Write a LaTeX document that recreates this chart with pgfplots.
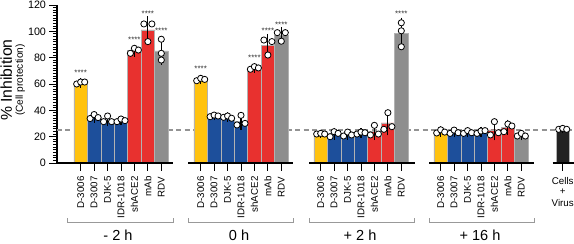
\documentclass[border=0pt]{standalone}
\usepackage{fontspec}
\setmainfont{Liberation Sans}
\usepackage{pgfplots}
\pgfplotsset{compat=1.18}
\definecolor{cy}{HTML}{FFC20E}
\definecolor{cb}{HTML}{1D4F9B}
\definecolor{cr}{HTML}{E8312F}
\definecolor{cg}{HTML}{8E8E8E}
\definecolor{ck}{HTML}{222222}
\begin{document}
\begin{tikzpicture}
\begin{axis}[
  scale only axis, width=517bp, height=158bp,
  xmin=57, xmax=574, ymin=0, ymax=120,
  clip=false,
  axis y line*=left, axis x line*=bottom,
  x axis line style={draw=none},
  y axis line style={line width=1.5bp, -},
  ytick={0,20,...,120}, minor y tick num=9,
  tick align=outside,
  major tick length=7.5bp, minor tick length=4bp,
  every tick/.style={black, line width=1bp},
  /pgf/number format/assume math mode=true,
  yticklabel style={font=\fontsize{10.8}{12}\selectfont},
  xtick={80.7,94.1,107.6,121.0,134.4,147.9,161.3,
         200.7,214.1,227.6,241.0,254.4,267.9,281.3,
         320.7,334.1,347.6,361.0,374.4,387.9,401.3,
         440.7,454.1,467.6,481.0,494.4,507.9,521.3,562.7},
  xticklabels={D-3006,D-3007,DJK-5,IDR-1018,shACE2,mAb,RDV,
               D-3006,D-3007,DJK-5,IDR-1018,shACE2,mAb,RDV,
               D-3006,D-3007,DJK-5,IDR-1018,shACE2,mAb,RDV,
               D-3006,D-3007,DJK-5,IDR-1018,shACE2,mAb,RDV,{}},
  xticklabel shift=2.5bp,
  xticklabel style={rotate=90, anchor=east, font=\fontsize{9.8}{11}\selectfont},
]
% reference line
\addplot[color=gray!85, line width=1.2bp, dash pattern=on 5bp off 3.5bp, forget plot] coordinates {(57,25) (574,25)};
% bars
\addplot[ybar, bar width=13.43, bar shift=0pt, fill=cy, draw=gray!60, line width=0.5bp] coordinates {
 (80.7,61.0) (200.7,63.4) (320.7,22.2) (440.7,23.8)};
\addplot[ybar, bar width=13.43, bar shift=0pt, fill=cb, draw=gray!60, line width=0.5bp] coordinates {
 (94.1,35.0) (107.6,32.8) (121.0,32.3)
 (214.1,35.8) (227.6,34.8) (241.0,31.7)
 (334.1,22.1) (347.6,21.8) (361.0,22.8)
 (454.1,23.5) (467.6,23.4) (481.0,23.8)};
\addplot[ybar, bar width=13.43, bar shift=0pt, fill=cr, draw=gray!60, line width=0.5bp] coordinates {
 (134.4,85.4) (147.9,101.1)
 (254.4,72.2) (267.9,89.2)
 (374.4,24.0) (387.9,30.5)
 (494.4,25.2) (507.9,27.2)};
\addplot[ybar, bar width=13.43, bar shift=0pt, fill=cg, draw=gray!60, line width=0.5bp] coordinates {
 (161.3,85.2) (281.3,96.8) (401.3,98.4) (521.3,21.2)};
\addplot[ybar, bar width=13.43, bar shift=0pt, fill=ck, draw=gray!60, line width=0.5bp] coordinates {
 (562.7,25.8)};
% error bars
\addplot[draw=none, mark=none,
  error bars/.cd, y dir=both, y explicit,
  error bar style={black, line width=1.1bp},
  error mark options={black, line width=1.1bp, mark size=3.5bp}] coordinates {
 (80.7,61.0) +- (0,1.0) (94.1,35.0) +- (0,1.6) (107.6,32.8) +- (0,2.4) (121.0,32.3) +- (0,1.0)
 (134.4,85.4) +- (0,1.9) (147.9,101.1) +- (0,7.7) (161.3,85.2) +- (0,8.0)
 (200.7,63.4) +- (0,0.9) (214.1,35.8) +- (0,0.6) (227.6,34.8) +- (0,0.9) (241.0,31.7) +- (0,3.9)
 (254.4,72.2) +- (0,1.0) (267.9,89.2) +- (0,6.3) (281.3,96.8) +- (0,3.8)
 (320.7,22.2) +- (0,0.3) (334.1,22.1) +- (0,1.9) (347.6,21.8) +- (0,1.6) (361.0,22.8) +- (0,0.8)
 (374.4,24.0) +- (0,4.0) (387.9,30.5) +- (0,6.8) (401.3,98.4) +- (0,9.3)
 (440.7,23.8) +- (0,1.3) (454.1,23.5) +- (0,1.3) (467.6,23.4) +- (0,1.1) (481.0,23.8) +- (0,1.1)
 (494.4,25.2) +- (0,5.4) (507.9,27.2) +- (0,3.0) (521.3,21.2) +- (0,1.2)
 (562.7,25.8) +- (0,0.4)};
% individual points
\addplot[only marks, mark=*, mark size=3.1bp, mark options={fill=white, draw=black, line width=0.8bp}] coordinates {
 (76.7,60.0) (80.7,61.5) (84.7,61.5)
 (90.1,33.8) (94.1,36.8) (98.1,34.5)
 (103.6,31.4) (107.6,35.7) (111.6,31.4)
 (117.0,31.4) (121.0,33.4) (125.0,32.2)
 (130.4,83.3) (134.4,87.1) (138.4,85.8)
 (143.9,105.6) (147.9,92.2) (151.9,105.6)
 (161.3,94.0) (161.3,83.3) (161.3,78.2)
 (196.7,62.5) (200.7,64.3) (204.7,63.5)
 (210.1,35.2) (214.1,36.4) (218.1,35.7)
 (223.6,34.7) (227.6,35.7) (231.6,34.0)
 (237.0,28.9) (241.0,36.2) (245.0,30.1)
 (250.4,71.2) (254.4,73.2) (258.4,72.2)
 (263.9,93.4) (267.9,82.0) (271.9,92.2)
 (277.3,99.0) (281.3,92.5) (285.3,99.0)
 (316.7,22.0) (320.7,22.5) (324.7,22.0)
 (330.1,20.0) (334.1,23.8) (338.1,22.5)
 (343.6,20.5) (347.6,23.5) (351.6,21.3)
 (357.0,22.0) (361.0,23.5) (365.0,23.0)
 (370.4,21.3) (374.4,28.6) (378.4,22.0)
 (383.9,25.6) (387.9,38.2) (391.9,27.6)
 (401.3,106.5) (401.3,100.4) (401.3,88.3)
 (436.7,22.8) (440.7,25.2) (444.7,23.5)
 (450.1,22.5) (454.1,25.0) (458.1,23.0)
 (463.6,22.5) (467.6,24.6) (471.6,23.0)
 (477.0,22.5) (481.0,24.3) (485.0,24.6)
 (490.4,21.3) (494.4,31.4) (498.4,23.0)
 (503.9,23.8) (507.9,29.6) (511.9,28.1)
 (517.3,20.5) (521.3,22.5) (525.3,20.5)
 (558.7,25.6) (562.7,26.3) (566.7,25.6)};
% broken x axis segments
\addplot[black, line width=1.6bp, forget plot] coordinates {(57,0) (173,0)};
\addplot[black, line width=1.6bp, forget plot] coordinates {(188.3,0) (293.3,0)};
\addplot[black, line width=1.6bp, forget plot] coordinates {(309.3,0) (414.7,0)};
\addplot[black, line width=1.6bp, forget plot] coordinates {(429.3,0) (534.3,0)};
\addplot[black, line width=1.6bp, forget plot] coordinates {(552.7,0) (574,0)};
% significance stars
\begin{scope}[every node/.style={font=\fontsize{8}{8}\selectfont, text=black!80, anchor=base, inner sep=0pt}]
\node at (axis cs:80.7,66.4) {****};
\node at (axis cs:134.4,91.2) {****};
\node at (axis cs:147.9,111.4) {****};
\node at (axis cs:161.3,98.0) {****};
\node at (axis cs:200.7,69.2) {****};
\node at (axis cs:254.4,78.0) {****};
\node at (axis cs:267.9,98.3) {****};
\node at (axis cs:281.3,102.6) {****};
\node at (axis cs:401.3,111.4) {****};
\end{scope}
% brackets
\begin{scope}[draw=gray!80, line width=1bp]
\draw (axis cs:68,-41.8) -- (axis cs:68,-45.3) -- (axis cs:173,-45.3) -- (axis cs:173,-41.8);
\draw (axis cs:188.3,-41.8) -- (axis cs:188.3,-45.3) -- (axis cs:293.3,-45.3) -- (axis cs:293.3,-41.8);
\draw (axis cs:309.3,-41.8) -- (axis cs:309.3,-45.3) -- (axis cs:414.7,-45.3) -- (axis cs:414.7,-41.8);
\draw (axis cs:429.3,-41.8) -- (axis cs:429.3,-45.3) -- (axis cs:534.3,-45.3) -- (axis cs:534.3,-41.8);
\end{scope}
% group labels
\begin{scope}[every node/.style={font=\fontsize{14.6}{15}\selectfont, anchor=base, inner sep=0pt}]
\node at (axis cs:118,-59.2) {- 2 h};
\node at (axis cs:239,-59.2) {0 h};
\node at (axis cs:360,-59.2) {+ 2 h};
\node at (axis cs:480,-59.2) {+ 16 h};
\end{scope}
% cells + virus label
\begin{scope}[every node/.style={font=\fontsize{9.8}{11}\selectfont, inner sep=0pt}]
\node[anchor=base] at (axis cs:562.7,-16.7) {Cells};
\node[anchor=center] at (axis cs:562.7,-21.8) {+};
\node[anchor=base] at (axis cs:562.7,-33.4) {Virus};
\end{scope}
% y label
\node[rotate=90, anchor=base, inner sep=0pt, font=\fontsize{15.8}{16}\selectfont] at (axis cs:12,63) {\% Inhibition};
\node[rotate=90, anchor=base, inner sep=0pt, font=\fontsize{10.2}{11}\selectfont] at (axis cs:23,63) {(Cell protection)};
\end{axis}
\pgfresetboundingbox
\path[use as bounding box] (-57bp,-81bp) rectangle (517bp,163bp);
\end{tikzpicture}
\end{document}
